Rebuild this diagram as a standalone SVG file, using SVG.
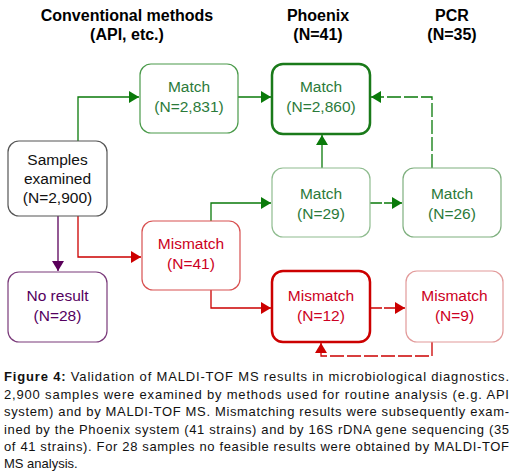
<svg xmlns="http://www.w3.org/2000/svg" width="513" height="471" viewBox="0 0 513 471">
<defs>
<marker id="ag" markerUnits="userSpaceOnUse" markerWidth="12" markerHeight="12" refX="10" refY="6" orient="auto"><path d="M0,0 L10,6 L0,12 Z" fill="#0a7a0a"/></marker>
<marker id="ar" markerUnits="userSpaceOnUse" markerWidth="12" markerHeight="12" refX="10" refY="6" orient="auto"><path d="M0,0 L10,6 L0,12 Z" fill="#cc0000"/></marker>
<marker id="ap" markerUnits="userSpaceOnUse" markerWidth="12" markerHeight="12" refX="10" refY="6" orient="auto"><path d="M0,0 L10,6 L0,12 Z" fill="#5a005a"/></marker>
</defs>
<style>
.h{font-family:"Liberation Sans",Arial,sans-serif;font-size:16px;font-weight:bold;fill:#000;text-anchor:middle}
.t{font-family:"Liberation Sans",Arial,sans-serif;font-size:15.5px;text-anchor:middle}
.g{fill:#2b7a3a}.r{fill:#cc0022}.p{fill:#550060}.k{fill:#111}
.box{fill:#fff}
.c{fill:none;stroke-width:1.3}
.cg{stroke:#0a7a0a}.cr{stroke:#cc0000}.cp{stroke:#5a005a}
.cap{font-family:"Liberation Sans",Arial,sans-serif;font-size:13px;fill:#111}
</style>
<g id="headers">
<text class="h" x="127" y="21">Conventional methods</text>
<text class="h" x="127" y="40">(API, etc.)</text>
<text class="h" x="318" y="21">Phoenix</text>
<text class="h" x="318" y="40">(N=41)</text>
<text class="h" x="452" y="21">PCR</text>
<text class="h" x="452" y="40">(N=35)</text>
</g>
<g id="connectors">
<polyline class="c cg" points="78,141 78,97 139,97" marker-end="url(#ag)"/>
<polyline class="c cg" points="238,97 271,97" marker-end="url(#ag)"/>
<polyline class="c cg" points="322,168 322,135" marker-end="url(#ag)"/>
<polyline class="c cg" points="211,221 211,203 271,203" marker-end="url(#ag)"/>
<polyline class="c cg" points="370,203 402,203" marker-end="url(#ag)" stroke-dasharray="12,2"/>
<polyline class="c cg" points="432,168 432,97 371,97" marker-end="url(#ag)" stroke-dasharray="14,3"/>
<polyline class="c cp" points="58,216 58,271" marker-end="url(#ap)"/>
<polyline class="c cr" points="78,216 78,257 141,257" marker-end="url(#ar)"/>
<polyline class="c cr" points="211,290 211,308 271,308" marker-end="url(#ar)"/>
<polyline class="c cr" points="370,308 405,308" marker-end="url(#ar)" stroke-dasharray="12,2"/>
<polyline class="c cr" points="432,342 432,356 321,356 321,343" marker-end="url(#ar)" stroke-dasharray="14,3"/>
</g>
<g id="samples">
<rect class="box" x="8" y="141" width="99" height="75" rx="11" stroke="#555" stroke-width="1.2"/>
<text class="t k" x="57.5" y="165">Samples</text>
<text class="t k" x="57.5" y="184">examined</text>
<text class="t k" x="57.5" y="203">(N=2,900)</text>
</g>
<g id="match2831">
<rect class="box" x="140" y="64" width="98" height="69" rx="11" stroke="#4a9a4a" stroke-width="1.2"/>
<text class="t g" x="189" y="92">Match</text>
<text class="t g" x="189" y="112">(N=2,831)</text>
</g>
<g id="match2860">
<rect class="box" x="272" y="64" width="98" height="70" rx="11" stroke="#1a7a1a" stroke-width="2.5"/>
<text class="t g" x="321" y="92">Match</text>
<text class="t g" x="321" y="112">(N=2,860)</text>
</g>
<g id="match29">
<rect class="box" x="272" y="168" width="98" height="69" rx="11" stroke="#8fbc8f" stroke-width="1.2"/>
<text class="t g" x="321" y="199">Match</text>
<text class="t g" x="321" y="219">(N=29)</text>
</g>
<g id="match26">
<rect class="box" x="403" y="168" width="98" height="69" rx="11" stroke="#7fb07f" stroke-width="1.2"/>
<text class="t g" x="452" y="199">Match</text>
<text class="t g" x="452" y="219">(N=26)</text>
</g>
<g id="mismatch41">
<rect class="box" x="142" y="221" width="98" height="69" rx="11" stroke="#d85050" stroke-width="1.2"/>
<text class="t r" x="191" y="249">Mismatch</text>
<text class="t r" x="191" y="269">(N=41)</text>
</g>
<g id="noresult">
<rect class="box" x="8" y="272" width="99" height="70" rx="11" stroke="#7a3a7a" stroke-width="1.2"/>
<text class="t p" x="57.5" y="301">No result</text>
<text class="t p" x="57.5" y="321">(N=28)</text>
</g>
<g id="mismatch12">
<rect class="box" x="272" y="271" width="98" height="71" rx="11" stroke="#cc0000" stroke-width="2.5"/>
<text class="t r" x="321" y="301">Mismatch</text>
<text class="t r" x="321" y="321">(N=12)</text>
</g>
<g id="mismatch9">
<rect class="box" x="406" y="271" width="97" height="71" rx="11" stroke="#e29a9a" stroke-width="1.2"/>
<text class="t r" x="454.5" y="301">Mismatch</text>
<text class="t r" x="454.5" y="321">(N=9)</text>
</g>
<g id="caption">
<text class="cap" x="4" y="381" textLength="505" lengthAdjust="spacing"><tspan font-weight="bold">Figure 4:</tspan> Validation of MALDI-TOF MS results in microbiological diagnostics.</text>
<text class="cap" x="4" y="398.5" textLength="505" lengthAdjust="spacing">2,900 samples were examined by methods used for routine analysis (e.g. API</text>
<text class="cap" x="4" y="416" textLength="505" lengthAdjust="spacing">system) and by MALDI-TOF MS. Mismatching results were subsequently exam-</text>
<text class="cap" x="4" y="433.5" textLength="505" lengthAdjust="spacing">ined by the Phoenix system (41 strains) and by 16S rDNA gene sequencing (35</text>
<text class="cap" x="4" y="451" textLength="505" lengthAdjust="spacing">of 41 strains). For 28 samples no feasible results were obtained by MALDI-TOF</text>
<text class="cap" x="4" y="467.5">MS analysis.</text>
</g>
</svg>
